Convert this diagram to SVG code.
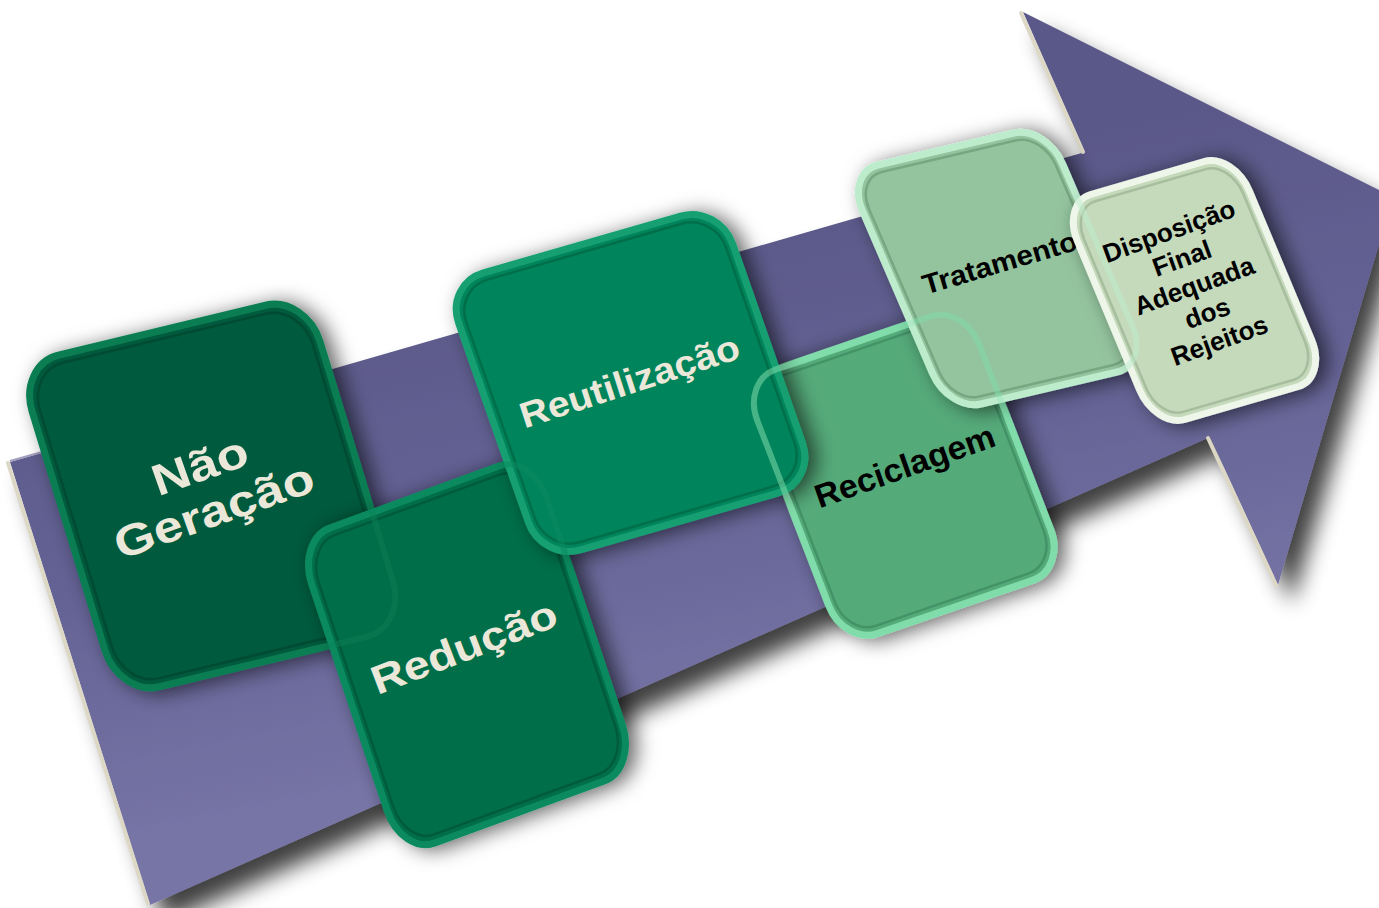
<svg xmlns="http://www.w3.org/2000/svg" width="1379" height="908" viewBox="0 0 1379 908">
<defs>
  <linearGradient id="arrowFill" gradientUnits="userSpaceOnUse" x1="620" y1="220" x2="720" y2="720">
    <stop offset="0" stop-color="#5a5888"/>
    <stop offset="0.5" stop-color="#646294"/>
    <stop offset="1" stop-color="#7674a5"/>
  </linearGradient>
  <filter id="arrowShadow" x="-10%" y="-15%" width="130%" height="140%">
    <feGaussianBlur in="SourceAlpha" stdDeviation="11"/>
    <feOffset dx="14" dy="18"/>
    <feComponentTransfer><feFuncA type="linear" slope="0.75"/></feComponentTransfer>
    <feMerge><feMergeNode/><feMergeNode in="SourceGraphic"/></feMerge>
  </filter>
  <filter id="nodeShadow" x="-30%" y="-30%" width="160%" height="160%">
    <feDropShadow dx="8" dy="2" stdDeviation="10" flood-color="#000" flood-opacity="0.6"/>
  </filter>
  <style>
    .box { stroke-width: 7; vector-effect: non-scaling-stroke; }
    .inner { fill: none; stroke-width: 2.5; vector-effect: non-scaling-stroke; stroke-opacity: 0.55; }
    .glass { fill: none; stroke-width: 6; vector-effect: non-scaling-stroke; stroke-opacity: 0.55; }
    .lbl { font-family: "Liberation Sans", Arial, sans-serif; font-weight: bold; text-anchor: middle; }
    .light { fill: #ece8d9; }
    .dark { fill: #000; }
    .n1 { fill: #045a3c; stroke: #0b7d53; }
    .n2 { fill: #036e4a; stroke: #0b8b5e; }
    .n3 { fill: #05845b; stroke: #15a072; }
    .n4 { fill: #55aa7a; stroke: #80dcaa; }
    .n5 { fill: #94c49e; stroke: #bdeccd; }
    .n6 { fill: #c5d9bb; stroke: #eef6ea; }
    .edge { stroke: #dcd8c5; stroke-width: 4; stroke-linecap: round; }
  </style>
</defs>

<rect x="0" y="0" width="1379" height="908" fill="#ffffff"/>

<g id="flow-arrow">
  <path filter="url(#arrowShadow)" d="M10,462 L1085,152 L1023,12 L1393,197 L1278,585 L1210,437 L150,905 Z" fill="url(#arrowFill)"/>
  <line class="edge" x1="8" y1="463" x2="148" y2="904"/>
  <line class="edge" x1="1021" y1="13" x2="1083" y2="152"/>
  <line class="edge" x1="1208" y1="438" x2="1276" y2="585"/>
  <line x1="10" y1="461" x2="60" y2="447" stroke="#a09ebd" stroke-width="2"/>
</g>

<g id="node-nao-geracao">
  <g filter="url(#nodeShadow)">
    <g transform="matrix(2.88,-0.695,1.01,3.315,18,365)">
      <rect class="box n1" x="0" y="0" width="100" height="100" rx="14"/>
      <rect class="inner" stroke="#02402a" x="2.6" y="2.4" width="94.8" height="95.2" rx="12"/>
    </g>
  </g>
  <text class="lbl light" font-size="44" textLength="99" lengthAdjust="spacingAndGlyphs" transform="translate(205,480) rotate(-19.5)">Não</text>
  <text class="lbl light" font-size="44" textLength="209" lengthAdjust="spacingAndGlyphs" transform="translate(219,525) rotate(-19.5)">Geração</text>
</g>

<g id="node-reducao">
  <g filter="url(#nodeShadow)">
    <g transform="matrix(2.35,-0.86,1.05,3.15,297,540)">
      <rect class="box n2" x="0" y="0" width="100" height="100" rx="14"/>
      <rect class="inner" stroke="#024a32" x="2.8" y="2.5" width="94.4" height="95" rx="12"/>
    </g>
  </g>
  <text class="lbl light" font-size="40" textLength="196" lengthAdjust="spacingAndGlyphs" transform="translate(469,660) rotate(-21)">Redução</text>
</g>

<g id="node-reciclagem">
  <g filter="url(#nodeShadow)">
    <g transform="matrix(2.22,-0.76,1.02,2.64,742,381)">
      <rect class="box n4" x="0" y="0" width="100" height="100" rx="15"/>
      <rect class="inner" stroke="#34805a" x="3" y="2.8" width="94" height="94.4" rx="12.5"/>
    </g>
  </g>
  <text class="lbl dark" font-size="33" textLength="189" lengthAdjust="spacingAndGlyphs" transform="translate(908.5,477) rotate(-19.5)">Reciclagem</text>
</g>

<g id="node-reutilizacao">
  <g filter="url(#nodeShadow)">
    <g transform="matrix(2.74,-0.79,0.97,2.77,445,284)">
      <rect class="box n3" x="0" y="0" width="100" height="100" rx="14"/>
      <rect class="inner" stroke="#025c3c" x="2.6" y="2.6" width="94.8" height="94.8" rx="12"/>
    </g>
  </g>
  <text class="lbl light" font-size="36" textLength="229" lengthAdjust="spacingAndGlyphs" transform="translate(633.5,393) rotate(-18)">Reutilização</text>
</g>

<g id="node-tratamento">
  <g filter="url(#nodeShadow)">
    <g transform="matrix(2.00,-0.47,1.03,2.39,846,172.5)">
      <rect class="box n5" x="0" y="0" width="100" height="100" rx="16"/>
      <rect class="inner" stroke="#5f8f6a" x="3.3" y="3" width="93.4" height="94" rx="13"/>
    </g>
  </g>
  <text class="lbl dark" font-size="28" textLength="160" lengthAdjust="spacingAndGlyphs" transform="translate(1002.5,272) rotate(-16.5)">Tratamento</text>
</g>

<g id="node-disposicao">
  <g filter="url(#nodeShadow)">
    <g transform="matrix(1.72,-0.50,0.94,2.25,1061.5,203)">
      <rect class="box n6" x="0" y="0" width="100" height="100" rx="17"/>
      <rect class="inner" stroke="#8ea887" x="3.8" y="3.2" width="92.4" height="93.6" rx="14"/>
    </g>
  </g>
  <g transform="translate(1172,239.5) rotate(-20)">
    <text class="lbl dark" font-size="26" x="0" y="0">Disposição</text>
    <text class="lbl dark" font-size="26" x="3" y="30">Final</text>
    <text class="lbl dark" font-size="26" x="5" y="60">Adequada</text>
    <text class="lbl dark" font-size="26" x="8" y="90">dos</text>
    <text class="lbl dark" font-size="26" x="10" y="120">Rejeitos</text>
  </g>
</g>

<g id="glass-overlaps">
  <rect class="glass" stroke="#0b7d53" transform="matrix(2.88,-0.695,1.01,3.315,18,365)" x="0" y="0" width="100" height="100" rx="14"/>
  <rect class="glass" stroke="#0b8b5e" transform="matrix(2.35,-0.86,1.05,3.15,297,540)" x="0" y="0" width="100" height="100" rx="14"/>
  <rect class="glass" stroke="#80dcaa" transform="matrix(2.22,-0.76,1.02,2.64,742,381)" x="0" y="0" width="100" height="100" rx="15"/>
  <rect class="glass" stroke="#bdeccd" transform="matrix(2.00,-0.47,1.03,2.39,846,172.5)" x="0" y="0" width="100" height="100" rx="16"/>
</g>
</svg>
